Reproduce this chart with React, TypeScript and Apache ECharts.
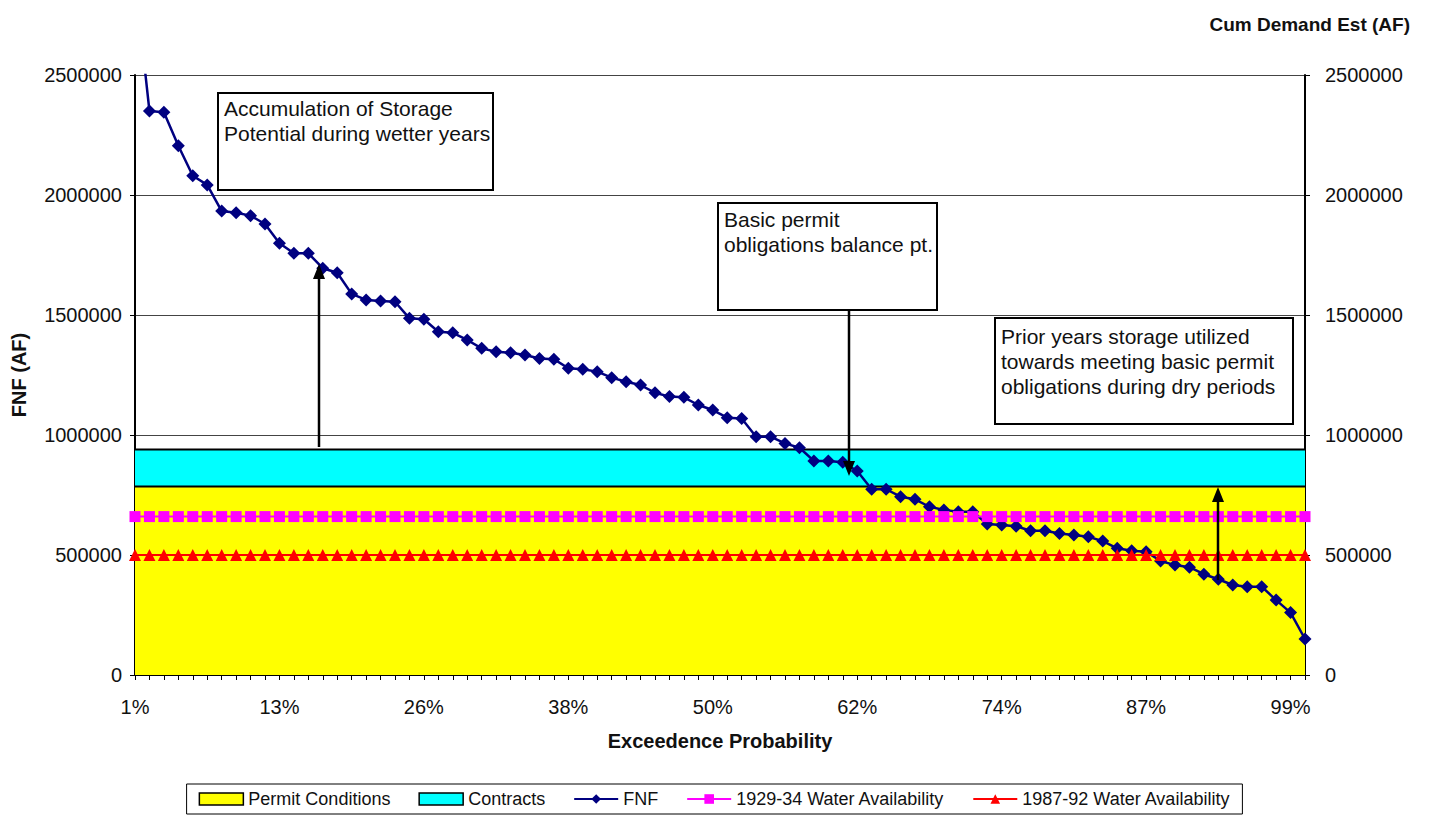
import React, { useEffect, useRef } from "react";
import * as echarts from "echarts";

const categories = [
  "1%", "2%", "4%", "5%", "6%", "7%", "9%", "10%", "11%", "12%",
  "13%", "15%", "16%", "17%", "18%", "20%", "21%", "22%", "23%", "24%",
  "26%", "27%", "28%", "29%", "30%", "32%", "33%", "34%", "35%", "37%",
  "38%", "39%", "40%", "41%", "43%", "44%", "45%", "46%", "48%", "49%",
  "50%", "51%", "52%", "54%", "55%", "56%", "57%", "59%", "60%", "61%",
  "62%", "63%", "65%", "66%", "67%", "68%", "70%", "71%", "72%", "73%",
  "74%", "76%", "77%", "78%", "79%", "80%", "82%", "83%", "84%", "85%",
  "87%", "88%", "89%", "90%", "91%", "93%", "94%", "95%", "96%", "98%",
  "99%", "100%",
];

const fnf = [
  2900000, 2350000, 2345000, 2205000, 2080000, 2042000, 1933000, 1926000, 1914000, 1879000,
  1799000, 1757000, 1757000, 1695000, 1676000, 1588000, 1563000, 1558000, 1555000, 1486000,
  1482000, 1430000, 1426000, 1396000, 1361000, 1347000, 1343000, 1333000, 1319000, 1316000,
  1278000, 1274000, 1264000, 1239000, 1222000, 1208000, 1176000, 1160000, 1157000, 1125000,
  1104000, 1072000, 1069000, 993000, 993000, 965000, 947000, 892000, 892000, 886000,
  850000, 774000, 774000, 743000, 732000, 701000, 688000, 680000, 680000, 629000,
  625000, 620000, 601000, 601000, 590000, 583000, 576000, 558000, 528000, 518000,
  514000, 475000, 458000, 449000, 420000, 399000, 375000, 368000, 368000, 312000,
  260000, 150000,
];

const permitConditions = [
  785000, 785000, 785000, 785000, 785000, 785000, 785000, 785000, 785000, 785000,
  785000, 785000, 785000, 785000, 785000, 785000, 785000, 785000, 785000, 785000,
  785000, 785000, 785000, 785000, 785000, 785000, 785000, 785000, 785000, 785000,
  785000, 785000, 785000, 785000, 785000, 785000, 785000, 785000, 785000, 785000,
  785000, 785000, 785000, 785000, 785000, 785000, 785000, 785000, 785000, 785000,
  785000, 785000, 785000, 785000, 785000, 785000, 785000, 785000, 785000, 785000,
  785000, 785000, 785000, 785000, 785000, 785000, 785000, 785000, 785000, 785000,
  785000, 785000, 785000, 785000, 785000, 785000, 785000, 785000, 785000, 785000,
  785000, 785000,
];

const contracts = [
  155000, 155000, 155000, 155000, 155000, 155000, 155000, 155000, 155000, 155000,
  155000, 155000, 155000, 155000, 155000, 155000, 155000, 155000, 155000, 155000,
  155000, 155000, 155000, 155000, 155000, 155000, 155000, 155000, 155000, 155000,
  155000, 155000, 155000, 155000, 155000, 155000, 155000, 155000, 155000, 155000,
  155000, 155000, 155000, 155000, 155000, 155000, 155000, 155000, 155000, 155000,
  155000, 155000, 155000, 155000, 155000, 155000, 155000, 155000, 155000, 155000,
  155000, 155000, 155000, 155000, 155000, 155000, 155000, 155000, 155000, 155000,
  155000, 155000, 155000, 155000, 155000, 155000, 155000, 155000, 155000, 155000,
  155000, 155000,
];

const avail1929to34 = [
  660000, 660000, 660000, 660000, 660000, 660000, 660000, 660000, 660000, 660000,
  660000, 660000, 660000, 660000, 660000, 660000, 660000, 660000, 660000, 660000,
  660000, 660000, 660000, 660000, 660000, 660000, 660000, 660000, 660000, 660000,
  660000, 660000, 660000, 660000, 660000, 660000, 660000, 660000, 660000, 660000,
  660000, 660000, 660000, 660000, 660000, 660000, 660000, 660000, 660000, 660000,
  660000, 660000, 660000, 660000, 660000, 660000, 660000, 660000, 660000, 660000,
  660000, 660000, 660000, 660000, 660000, 660000, 660000, 660000, 660000, 660000,
  660000, 660000, 660000, 660000, 660000, 660000, 660000, 660000, 660000, 660000,
  660000, 660000,
];

const avail1987to92 = [
  500000, 500000, 500000, 500000, 500000, 500000, 500000, 500000, 500000, 500000,
  500000, 500000, 500000, 500000, 500000, 500000, 500000, 500000, 500000, 500000,
  500000, 500000, 500000, 500000, 500000, 500000, 500000, 500000, 500000, 500000,
  500000, 500000, 500000, 500000, 500000, 500000, 500000, 500000, 500000, 500000,
  500000, 500000, 500000, 500000, 500000, 500000, 500000, 500000, 500000, 500000,
  500000, 500000, 500000, 500000, 500000, 500000, 500000, 500000, 500000, 500000,
  500000, 500000, 500000, 500000, 500000, 500000, 500000, 500000, 500000, 500000,
  500000, 500000, 500000, 500000, 500000, 500000, 500000, 500000, 500000, 500000,
  500000, 500000,
];

const FONT = 'Arial, "Liberation Sans", sans-serif';

export default function App() {
  const ref = useRef<HTMLDivElement>(null);

  useEffect(() => {
    if (!ref.current) return;
    const chart = echarts.init(ref.current, null, { renderer: "svg" });

    const yAxisBase = {
      type: "value",
      min: 0,
      max: 2500000,
      interval: 500000,
      axisLine: { show: true, lineStyle: { color: "#000", width: 2 } },
      axisTick: { show: true, length: 5, lineStyle: { color: "#000" } },
    };

    const boxStyle = { fill: "#fff", stroke: "#000", lineWidth: 2 };
    const textStyle = (t: string) => ({
      text: t,
      fill: "#111",
      font: `21px ${FONT}`,
      lineHeight: 25,
    });

    chart.setOption({
      animation: false,
      backgroundColor: "#fff",
      textStyle: { fontFamily: FONT },
      grid: { left: 135, right: 124, top: 75, bottom: 142, containLabel: false },
      legend: {
        bottom: 3,
        left: "center",
        orient: "horizontal",
        borderColor: "#000",
        borderWidth: 1,
        padding: [6, 12, 6, 12],
        itemGap: 28,
        itemWidth: 44,
        itemHeight: 12,
        textStyle: { fontSize: 18, color: "#111", fontFamily: FONT },
        data: [
          { name: "Permit Conditions", icon: "rect", itemStyle: { color: "#FFFF00", borderColor: "#000", borderWidth: 1.5 } },
          { name: "Contracts", icon: "rect", itemStyle: { color: "#00FFFF", borderColor: "#000", borderWidth: 1.5 } },
          { name: "FNF" },
          { name: "1929-34 Water Availability" },
          { name: "1987-92 Water Availability" },
        ],
      },
      xAxis: {
        type: "category",
        data: categories,
        boundaryGap: false,
        name: "Exceedence Probability",
        nameLocation: "middle",
        nameGap: 56,
        nameTextStyle: { fontSize: 20, fontWeight: "bold", color: "#111", fontFamily: FONT },
        axisLine: { show: true, lineStyle: { color: "#000", width: 2 } },
        axisTick: { show: true, interval: 0, length: 5, lineStyle: { color: "#000" } },
        axisLabel: { interval: 9, fontSize: 20, color: "#111", margin: 22, fontFamily: FONT },
        splitLine: { show: false },
      },
      yAxis: [
        {
          ...yAxisBase,
          position: "left",
          name: "FNF (AF)",
          nameLocation: "middle",
          nameGap: 106,
          nameTextStyle: { fontSize: 20, fontWeight: "bold", color: "#111", fontFamily: FONT },
          axisLabel: { fontSize: 20, color: "#111", margin: 13, fontFamily: FONT, formatter: (v: number) => String(v) },
          splitLine: { show: true, lineStyle: { color: "#444", width: 1 } },
        },
        {
          ...yAxisBase,
          position: "right",
          axisLabel: { fontSize: 20, color: "#111", margin: 20, fontFamily: FONT, formatter: (v: number) => String(v) },
          splitLine: { show: false },
        },
      ],
      series: [
        {
          name: "Permit Conditions",
          type: "line",
          data: permitConditions,
          stack: "capacity",
          symbol: "none",
          lineStyle: { color: "#000", width: 2 },
          itemStyle: { color: "#FFFF00" },
          areaStyle: { color: "#FFFF00", opacity: 1 },
          z: 1,
        },
        {
          name: "Contracts",
          type: "line",
          data: contracts,
          stack: "capacity",
          symbol: "none",
          lineStyle: { color: "#000", width: 2 },
          itemStyle: { color: "#00FFFF" },
          areaStyle: { color: "#00FFFF", opacity: 1 },
          z: 1,
        },
        {
          name: "FNF",
          type: "line",
          data: fnf,
          symbol: "diamond",
          symbolSize: 13,
          showAllSymbol: true,
          lineStyle: { color: "#000080", width: 2.5 },
          itemStyle: { color: "#000080" },
          z: 3,
        },
        {
          name: "1929-34 Water Availability",
          type: "line",
          data: avail1929to34,
          symbol: "rect",
          symbolSize: 11,
          showAllSymbol: true,
          lineStyle: { color: "#FF00FF", width: 2 },
          itemStyle: { color: "#FF00FF" },
          z: 4,
        },
        {
          name: "1987-92 Water Availability",
          type: "line",
          data: avail1987to92,
          symbol: "triangle",
          symbolSize: 12,
          showAllSymbol: true,
          lineStyle: { color: "#FF0000", width: 2 },
          itemStyle: { color: "#FF0000" },
          z: 5,
        },
      ],
      graphic: [
        {
          type: "text",
          right: 19,
          top: 15,
          style: { text: "Cum Demand Est (AF)", fill: "#111", font: `bold 19px ${FONT}` },
        },
        { type: "rect", shape: { x: 218, y: 93, width: 275, height: 97 }, style: boxStyle, z: 100 },
        { type: "text", x: 224, y: 96, style: textStyle("Accumulation of Storage\nPotential during wetter years"), z: 101 },
        { type: "rect", shape: { x: 718, y: 203, width: 219, height: 107 }, style: boxStyle, z: 100 },
        { type: "text", x: 724, y: 207, style: textStyle("Basic permit\nobligations balance pt."), z: 101 },
        { type: "rect", shape: { x: 995, y: 318, width: 298, height: 106 }, style: boxStyle, z: 100 },
        { type: "text", x: 1001, y: 324, style: textStyle("Prior years storage utilized\ntowards meeting basic permit\nobligations during dry periods"), z: 101 },
        // arrows
        { type: "line", shape: { x1: 319, y1: 447, x2: 319, y2: 274 }, style: { stroke: "#000", lineWidth: 2.5 }, z: 100 },
        { type: "polygon", shape: { points: [[319, 264], [313, 279], [325, 279]] }, style: { fill: "#000" }, z: 100 },
        { type: "line", shape: { x1: 849, y1: 310, x2: 849, y2: 466 }, style: { stroke: "#000", lineWidth: 2.5 }, z: 100 },
        { type: "polygon", shape: { points: [[849, 476], [843, 461], [855, 461]] }, style: { fill: "#000" }, z: 100 },
        { type: "line", shape: { x1: 1218, y1: 580, x2: 1218, y2: 497 }, style: { stroke: "#000", lineWidth: 2.5 }, z: 100 },
        { type: "polygon", shape: { points: [[1218, 487], [1212, 502], [1224, 502]] }, style: { fill: "#000" }, z: 100 },
      ],
    });

    return () => chart.dispose();
  }, []);

  return (
    <div
      ref={ref}
      style={{ position: "fixed", left: 0, top: 0, width: 1429, height: 817, background: "#fff" }}
    />
  );
}
